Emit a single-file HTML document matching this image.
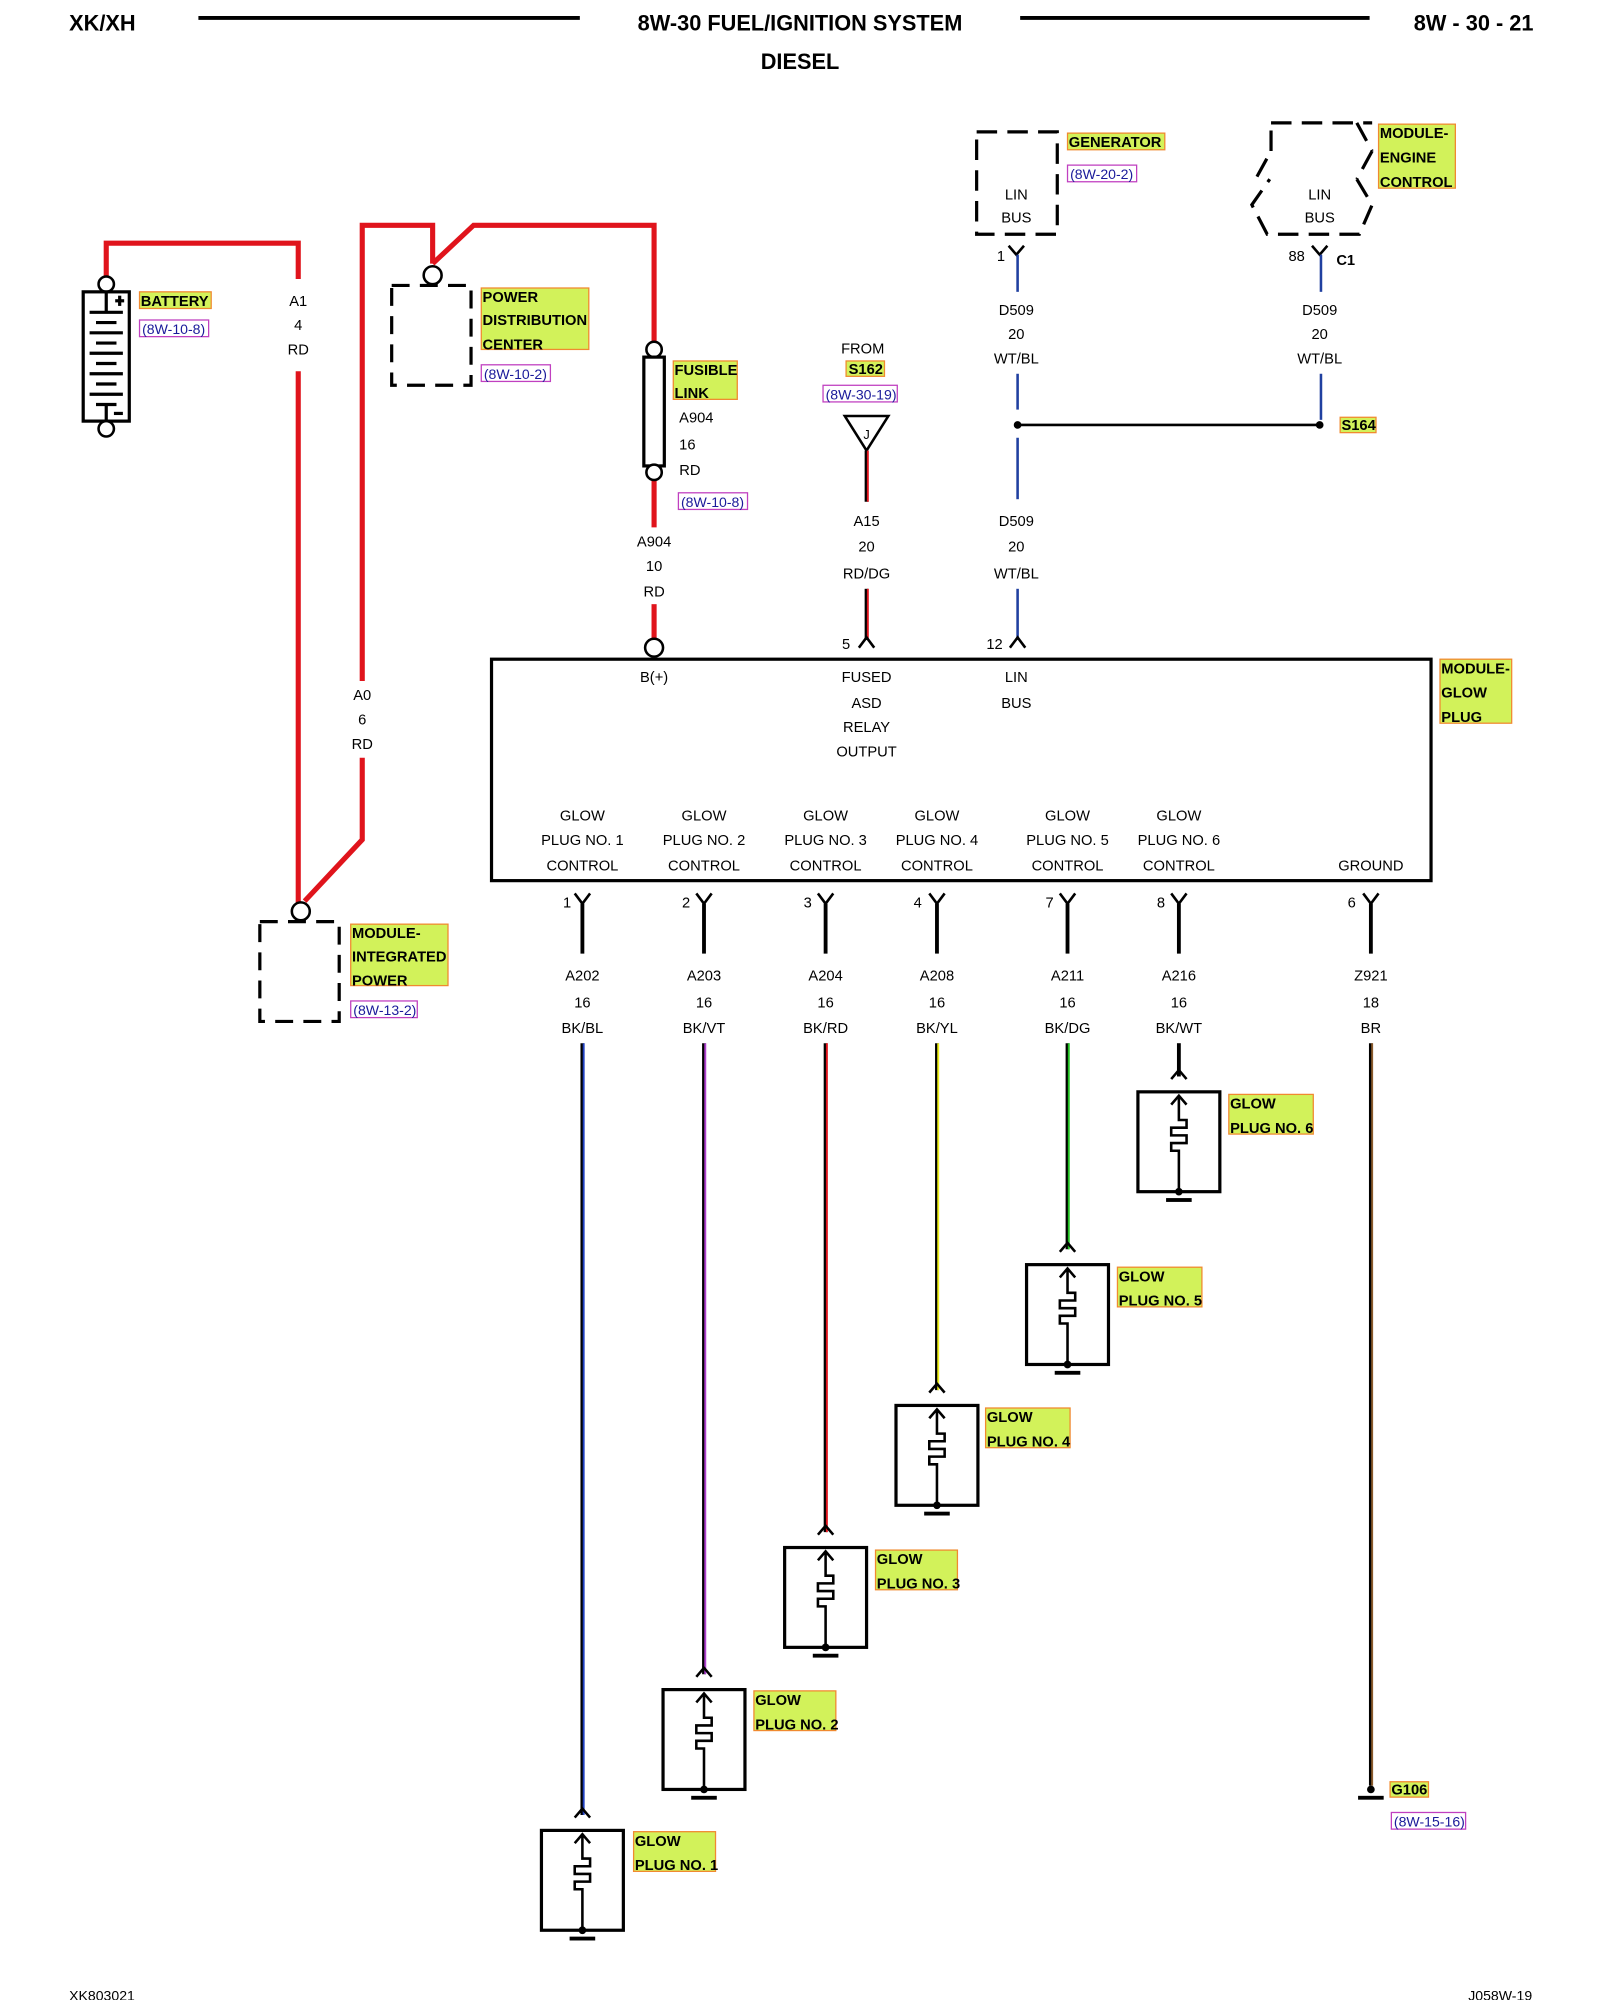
<!DOCTYPE html>
<html><head><meta charset="utf-8"><style>
html,body{margin:0;padding:0;background:#fff;}
svg{display:block;}
text{font-family:"Liberation Sans",Arial,sans-serif;fill:#000;}
.t{font-size:11.5px;text-anchor:middle;}
.h{font-size:11.5px;font-weight:bold;}
.ref{font-size:11px;fill:#1a1a9a;}
.lab{fill:#d2f25a;stroke:#f08a30;stroke-width:1;}
.rb{fill:none;stroke:#c040c0;stroke-width:1;}
</style></head><body>
<svg width="1600" height="2000" viewBox="0 0 1250 1562.5" xmlns="http://www.w3.org/2000/svg">
<defs>
<g id="gp">
 <rect x="-32" y="0" width="64" height="78" fill="none" stroke="#000" stroke-width="2.5"/>
 <path d="M-6,10 L0,3 L6,10 M0,3 V22 h6 v6 h-12 v6 h12 v6 h-12 v6 h6 V78" fill="none" stroke="#000" stroke-width="2"/>
 <circle cx="0" cy="78" r="3" fill="#000"/>
 <rect x="-10" y="83" width="20" height="3" fill="#000"/>
</g>
</defs>
<!-- header -->
<text x="54" y="24" style="font-size:17px;font-weight:bold">XK/XH</text>
<line x1="155" y1="14" x2="453" y2="14" stroke="#000" stroke-width="3"/>
<text x="625" y="24" style="font-size:17px;font-weight:bold;text-anchor:middle">8W-30 FUEL/IGNITION SYSTEM</text>
<text x="625" y="54" style="font-size:17px;font-weight:bold;text-anchor:middle">DIESEL</text>
<line x1="797" y1="14" x2="1070" y2="14" stroke="#000" stroke-width="3"/>
<text x="1198" y="24" style="font-size:17px;font-weight:bold;text-anchor:end">8W - 30 - 21</text>

<!-- red wires -->
<g fill="none" stroke="#e0141c" stroke-width="4">
 <path d="M83,218 V190 H233 V218"/>
 <path d="M233,290 V706"/>
 <path d="M283,532 V176 H338 V206"/>
 <path d="M338,206 L370,176 H511 V268"/>
 <path d="M283,592 V656 L238,704"/>
 <path d="M511,375 V412"/>
 <path d="M511,472 V500"/>
</g>
<!-- battery -->
<circle cx="83" cy="222" r="6" fill="#fff" stroke="#000" stroke-width="2"/>
<rect x="65" y="228" width="36" height="101" fill="none" stroke="#000" stroke-width="2.5"/>
<g stroke="#000" stroke-width="2.5">
<line x1="83" y1="228" x2="83" y2="244"/><line x1="70" y1="244" x2="96" y2="244"/>
<line x1="75" y1="252" x2="91" y2="252"/><line x1="70" y1="260" x2="96" y2="260"/>
<line x1="75" y1="268" x2="91" y2="268"/><line x1="70" y1="276" x2="96" y2="276"/>
<line x1="75" y1="284" x2="91" y2="284"/><line x1="70" y1="292" x2="96" y2="292"/>
<line x1="75" y1="300" x2="91" y2="300"/><line x1="70" y1="308" x2="96" y2="308"/>
<line x1="75" y1="316" x2="91" y2="316"/><line x1="83" y1="316" x2="83" y2="329"/>
<line x1="90" y1="235" x2="97" y2="235"/><line x1="93.5" y1="231" x2="93.5" y2="239"/>
<line x1="89" y1="323" x2="96" y2="323"/>
</g>
<circle cx="83" cy="335" r="6" fill="#fff" stroke="#000" stroke-width="2"/>
<rect class="lab" x="109" y="228" width="56" height="13"/><text class="h" x="110" y="239">BATTERY</text>
<rect class="rb" x="109" y="250" width="54" height="13"/><text class="ref" x="111" y="261">(8W-10-8)</text>
<text class="t" x="233" y="239">A1</text><text class="t" x="233" y="258">4</text><text class="t" x="233" y="277">RD</text>

<!-- PDC -->
<circle cx="338" cy="215" r="7" fill="#fff" stroke="#000" stroke-width="2"/>
<rect x="306" y="223" width="62" height="78" fill="none" stroke="#000" stroke-width="2.5" stroke-dasharray="14,8"/>
<rect class="lab" x="376" y="225" width="84" height="48"/>
<text class="h" x="377" y="236">POWER</text><text class="h" x="377" y="254">DISTRIBUTION</text><text class="h" x="377" y="273">CENTER</text>
<rect class="rb" x="376" y="285" width="54" height="13"/><text class="ref" x="378" y="296">(8W-10-2)</text>

<!-- fusible link -->
<circle cx="511" cy="273" r="6" fill="#fff" stroke="#000" stroke-width="2"/>
<rect x="503" y="279" width="16" height="85" fill="#fff" stroke="#000" stroke-width="2.5"/>
<circle cx="511" cy="369" r="6" fill="#fff" stroke="#000" stroke-width="2"/>
<rect class="lab" x="526" y="282" width="50" height="30"/>
<text class="h" x="527" y="293">FUSIBLE</text><text class="h" x="527" y="311">LINK</text>
<text class="t" x="544" y="330">A904</text><text class="t" x="537" y="351">16</text><text class="t" x="539" y="371">RD</text>
<rect class="rb" x="530" y="385" width="54" height="13"/><text class="ref" x="532" y="396">(8W-10-8)</text>
<text class="t" x="511" y="427">A904</text><text class="t" x="511" y="446">10</text><text class="t" x="511" y="466">RD</text>
<circle cx="511" cy="506" r="7" fill="#fff" stroke="#000" stroke-width="2"/>

<text class="t" x="283" y="547">A0</text><text class="t" x="283" y="566">6</text><text class="t" x="283" y="585">RD</text>

<!-- MIP -->
<circle cx="235" cy="712" r="7" fill="#fff" stroke="#000" stroke-width="2"/>
<rect x="203" y="720" width="62" height="78" fill="none" stroke="#000" stroke-width="2.5" stroke-dasharray="14,8"/>
<rect class="lab" x="274" y="722" width="76" height="48"/>
<text class="h" x="275" y="733">MODULE-</text><text class="h" x="275" y="751">INTEGRATED</text><text class="h" x="275" y="770">POWER</text>
<rect class="rb" x="274" y="782" width="52" height="13"/><text class="ref" x="276" y="793">(8W-13-2)</text>

<!-- S162 feed -->
<text class="t" x="674" y="276">FROM</text>
<rect class="lab" x="661" y="282" width="30" height="12"/><text class="h" x="663" y="292">S162</text>
<rect class="rb" x="643" y="301" width="58" height="13"/><text class="ref" x="645" y="312">(8W-30-19)</text>
<path d="M660,325 H694 L677,352 Z" fill="#fff" stroke="#000" stroke-width="2"/>
<text x="677" y="343" style="font-size:10px;text-anchor:middle">J</text>
<line x1="677" y1="352" x2="677" y2="392" stroke="#000" stroke-width="3"/>
<line x1="678" y1="352" x2="678" y2="392" stroke="#e0141c" stroke-width="1.5"/>
<text class="t" x="677" y="411">A15</text><text class="t" x="677" y="431">20</text><text class="t" x="677" y="452">RD/DG</text>
<line x1="677" y1="460" x2="677" y2="500" stroke="#000" stroke-width="3"/>
<line x1="678" y1="460" x2="678" y2="500" stroke="#e0141c" stroke-width="1.5"/>
<path d="M671,506 L677,498 L683,506" fill="none" stroke="#000" stroke-width="2"/>
<text class="t" x="661" y="507">5</text>

<!-- generator -->
<rect x="763" y="103" width="63" height="80" fill="none" stroke="#000" stroke-width="2.5" stroke-dasharray="16,8"/>
<text class="t" x="794" y="156">LIN</text><text class="t" x="794" y="174">BUS</text>
<rect class="lab" x="834" y="104" width="76" height="13"/><text class="h" x="835" y="115">GENERATOR</text>
<rect class="rb" x="834" y="129" width="54" height="13"/><text class="ref" x="836" y="140">(8W-20-2)</text>
<path d="M788,192 L794,199 L800,192" fill="none" stroke="#000" stroke-width="2"/>
<text class="t" x="782" y="204">1</text>
<line x1="795" y1="199" x2="795" y2="228" stroke="#2040a0" stroke-width="2"/>
<text class="t" x="794" y="246">D509</text><text class="t" x="794" y="265">20</text><text class="t" x="794" y="284">WT/BL</text>
<line x1="795" y1="292" x2="795" y2="320" stroke="#2040a0" stroke-width="2"/>
<line x1="795" y1="342" x2="795" y2="390" stroke="#2040a0" stroke-width="2"/>
<line x1="795" y1="332" x2="1031" y2="332" stroke="#000" stroke-width="2"/>
<circle cx="795" cy="332" r="3" fill="#000"/><circle cx="1031" cy="332" r="3" fill="#000"/>
<rect class="lab" x="1047" y="326" width="28" height="12"/><text class="h" x="1048" y="336">S164</text>
<text class="t" x="794" y="411">D509</text><text class="t" x="794" y="431">20</text><text class="t" x="794" y="452">WT/BL</text>
<line x1="795" y1="460" x2="795" y2="500" stroke="#2040a0" stroke-width="2"/>
<path d="M789,506 L795,498 L801,506" fill="none" stroke="#000" stroke-width="2"/>
<text class="t" x="777" y="507">12</text>

<!-- ECM -->
<path d="M993,96 H1072 M1060,96 L1072,118 M1072,118 L1060,140 M1060,140 L1072,160 L1062,183 H990 L978,160 L992,140 M982,138 L993,118 M993,118 L993,96" fill="none" stroke="#000" stroke-width="2.5" stroke-dasharray="16,8"/>
<text class="t" x="1031" y="156">LIN</text><text class="t" x="1031" y="174">BUS</text>
<rect class="lab" x="1077" y="97" width="60" height="50"/>
<text class="h" x="1078" y="108">MODULE-</text><text class="h" x="1078" y="127">ENGINE</text><text class="h" x="1078" y="146">CONTROL</text>
<path d="M1025,192 L1031,199 L1037,192" fill="none" stroke="#000" stroke-width="2"/>
<text class="t" x="1013" y="204">88</text><text class="h" x="1044" y="207">C1</text>
<line x1="1032" y1="199" x2="1032" y2="228" stroke="#2040a0" stroke-width="2"/>
<text class="t" x="1031" y="246">D509</text><text class="t" x="1031" y="265">20</text><text class="t" x="1031" y="284">WT/BL</text>
<line x1="1032" y1="292" x2="1032" y2="328" stroke="#2040a0" stroke-width="2"/>

<!-- glow plug module -->
<rect x="384" y="515" width="734" height="173" fill="none" stroke="#000" stroke-width="2.5"/>
<rect class="lab" x="1125" y="515" width="56" height="50"/>
<text class="h" x="1126" y="526">MODULE-</text><text class="h" x="1126" y="545">GLOW</text><text class="h" x="1126" y="564">PLUG</text>
<text class="t" x="511" y="533">B(+)</text>
<text class="t" x="677" y="533">FUSED</text><text class="t" x="677" y="553">ASD</text><text class="t" x="677" y="572">RELAY</text><text class="t" x="677" y="591">OUTPUT</text>
<text class="t" x="794" y="533">LIN</text><text class="t" x="794" y="553">BUS</text>
<g>
<text class="t" x="455" y="641">GLOW</text><text class="t" x="455" y="660">PLUG NO. 1</text><text class="t" x="455" y="680">CONTROL</text>
<text class="t" x="550" y="641">GLOW</text><text class="t" x="550" y="660">PLUG NO. 2</text><text class="t" x="550" y="680">CONTROL</text>
<text class="t" x="645" y="641">GLOW</text><text class="t" x="645" y="660">PLUG NO. 3</text><text class="t" x="645" y="680">CONTROL</text>
<text class="t" x="732" y="641">GLOW</text><text class="t" x="732" y="660">PLUG NO. 4</text><text class="t" x="732" y="680">CONTROL</text>
<text class="t" x="834" y="641">GLOW</text><text class="t" x="834" y="660">PLUG NO. 5</text><text class="t" x="834" y="680">CONTROL</text>
<text class="t" x="921" y="641">GLOW</text><text class="t" x="921" y="660">PLUG NO. 6</text><text class="t" x="921" y="680">CONTROL</text>
<text class="t" x="1071" y="680">GROUND</text>
</g>

<!-- output wires -->
<g stroke-width="2" fill="none" stroke="#000">
<path d="M449,698 L455,706 L461,698"/><path d="M544,698 L550,706 L556,698"/><path d="M639,698 L645,706 L651,698"/>
<path d="M726,698 L732,706 L738,698"/><path d="M828,698 L834,706 L840,698"/><path d="M915,698 L921,706 L927,698"/><path d="M1065,698 L1071,706 L1077,698"/>
</g>
<g>
<text class="t" x="443" y="709">1</text><text class="t" x="536" y="709">2</text><text class="t" x="631" y="709">3</text><text class="t" x="717" y="709">4</text><text class="t" x="820" y="709">7</text><text class="t" x="907" y="709">8</text><text class="t" x="1056" y="709">6</text>
</g>
<g stroke-width="3" stroke="#000">
<line x1="455" y1="706" x2="455" y2="745"/><line x1="550" y1="706" x2="550" y2="745"/><line x1="645" y1="706" x2="645" y2="745"/>
<line x1="732" y1="706" x2="732" y2="745"/><line x1="834" y1="706" x2="834" y2="745"/><line x1="921" y1="706" x2="921" y2="745"/><line x1="1071" y1="706" x2="1071" y2="745"/>
<line x1="455" y1="815" x2="455" y2="1418"/><line x1="550" y1="815" x2="550" y2="1308"/><line x1="645" y1="815" x2="645" y2="1197"/>
<line x1="732" y1="815" x2="732" y2="1086"/><line x1="834" y1="815" x2="834" y2="976"/><line x1="921" y1="815" x2="921" y2="841"/><line x1="1071" y1="815" x2="1071" y2="1395"/>
</g>
<g stroke-width="1.5">
<line x1="456" y1="815" x2="456" y2="1418" stroke="#2040c0"/>
<line x1="551" y1="815" x2="551" y2="1308" stroke="#b040d0"/>
<line x1="646" y1="815" x2="646" y2="1197" stroke="#e0141c"/>
<line x1="733" y1="815" x2="733" y2="1086" stroke="#f0f020"/>
<line x1="835" y1="815" x2="835" y2="976" stroke="#20c020"/>
<line x1="1072" y1="815" x2="1072" y2="1395" stroke="#8a5a2a"/>
</g>
<text class="t" x="455" y="766">A202</text><text class="t" x="455" y="787">16</text><text class="t" x="455" y="807">BK/BL</text>
<text class="t" x="550" y="766">A203</text><text class="t" x="550" y="787">16</text><text class="t" x="550" y="807">BK/VT</text>
<text class="t" x="645" y="766">A204</text><text class="t" x="645" y="787">16</text><text class="t" x="645" y="807">BK/RD</text>
<text class="t" x="732" y="766">A208</text><text class="t" x="732" y="787">16</text><text class="t" x="732" y="807">BK/YL</text>
<text class="t" x="834" y="766">A211</text><text class="t" x="834" y="787">16</text><text class="t" x="834" y="807">BK/DG</text>
<text class="t" x="921" y="766">A216</text><text class="t" x="921" y="787">16</text><text class="t" x="921" y="807">BK/WT</text>
<text class="t" x="1071" y="766">Z921</text><text class="t" x="1071" y="787">18</text><text class="t" x="1071" y="807">BR</text>

<g fill="none" stroke="#000" stroke-width="2">
<path d="M449,1420 L455,1413 L461,1420"/><path d="M544,1310 L550,1303 L556,1310"/><path d="M639,1199 L645,1192 L651,1199"/>
<path d="M726,1088 L732,1081 L738,1088"/><path d="M828,978 L834,971 L840,978"/><path d="M915,843 L921,836 L927,843"/>
</g>
<use href="#gp" transform="translate(455,1430)"/>
<use href="#gp" transform="translate(550,1320)"/>
<use href="#gp" transform="translate(645,1209)"/>
<use href="#gp" transform="translate(732,1098)"/>
<use href="#gp" transform="translate(834,988)"/>
<use href="#gp" transform="translate(921,853)"/>
<rect class="lab" x="495" y="1431" width="64" height="31"/><text class="h" x="496" y="1442">GLOW</text><text class="h" x="496" y="1461">PLUG NO. 1</text>
<rect class="lab" x="589" y="1321" width="64" height="31"/><text class="h" x="590" y="1332">GLOW</text><text class="h" x="590" y="1351">PLUG NO. 2</text>
<rect class="lab" x="684" y="1211" width="64" height="31"/><text class="h" x="685" y="1222">GLOW</text><text class="h" x="685" y="1241">PLUG NO. 3</text>
<rect class="lab" x="770" y="1100" width="66" height="31"/><text class="h" x="771" y="1111">GLOW</text><text class="h" x="771" y="1130">PLUG NO. 4</text>
<rect class="lab" x="873" y="990" width="66" height="31"/><text class="h" x="874" y="1001">GLOW</text><text class="h" x="874" y="1020">PLUG NO. 5</text>
<rect class="lab" x="960" y="855" width="66" height="31"/><text class="h" x="961" y="866">GLOW</text><text class="h" x="961" y="885">PLUG NO. 6</text>

<!-- ground G106 -->
<circle cx="1071" cy="1398" r="3" fill="#000"/>
<rect x="1061" y="1403" width="20" height="3" fill="#000"/>
<rect class="lab" x="1086" y="1392" width="30" height="12"/><text class="h" x="1087" y="1402">G106</text>
<rect class="rb" x="1087" y="1416" width="58" height="13"/><text class="ref" x="1089" y="1427">(8W-15-16)</text>

<text x="54" y="1563" style="font-size:11px">XK803021</text>
<text x="1197" y="1563" style="font-size:11px;text-anchor:end">J058W-19</text>
</svg>
</body></html>
